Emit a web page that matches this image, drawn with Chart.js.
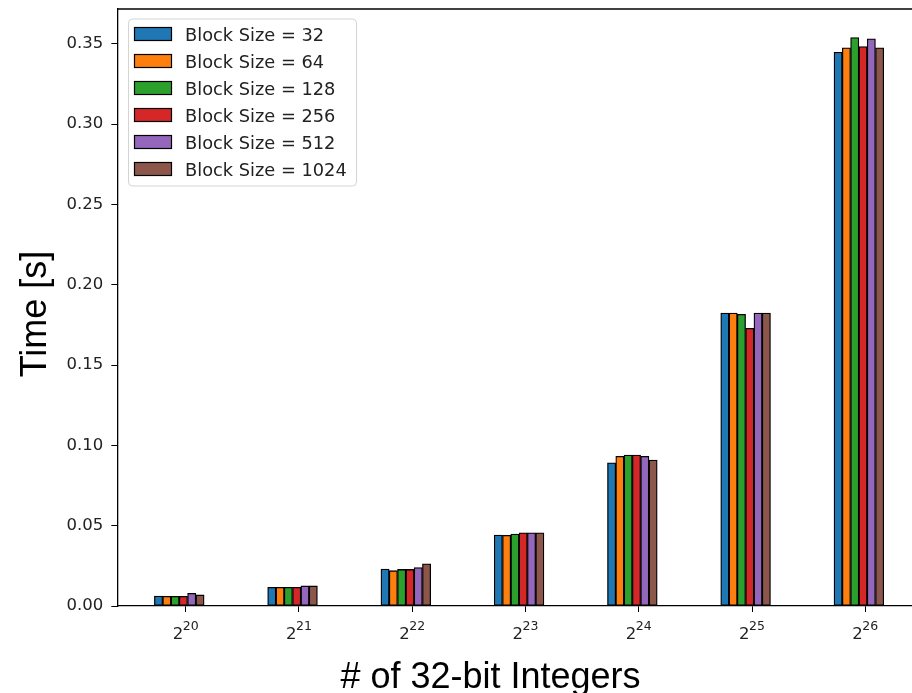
<!DOCTYPE html>
<html>
<head>
<meta charset="utf-8">
<script src="https://cdn.jsdelivr.net/npm/chart.js@4/dist/chart.umd.min.js"></script>
<style>
  html, body { margin: 0; padding: 0; background: #fff; }
  #wrap { width: 912px; height: 693px; position: relative; overflow: hidden; }
</style>
</head>
<body>
<div id="wrap"><canvas id="grafico" width="912" height="693"></canvas></div>
<script>
// dados
const expoentes = [20, 21, 22, 23, 24, 25, 26];
const blocos = ['Block Size = 32', 'Block Size = 64', 'Block Size = 128', 'Block Size = 256', 'Block Size = 512', 'Block Size = 1024'];
const bs32 = [0.0062, 0.0116, 0.0230, 0.0442, 0.0892, 0.1824, 0.3448];
const bs64 = [0.0060, 0.0116, 0.0220, 0.0440, 0.0932, 0.1824, 0.3476];
const bs128 = [0.0060, 0.0116, 0.0228, 0.0448, 0.0940, 0.1816, 0.3539];
const bs256 = [0.0060, 0.0116, 0.0228, 0.0456, 0.0940, 0.1729, 0.3483];
const bs512 = [0.0079, 0.0125, 0.0239, 0.0456, 0.0932, 0.1824, 0.3531];
const bs1024 = [0.0069, 0.0125, 0.0263, 0.0456, 0.0909, 0.1824, 0.3476];
const yTicks = [0, 0.05, 0.10, 0.15, 0.20, 0.25, 0.30, 0.35];
const cores = ['#1f77b4', '#ff7f0e', '#2ca02c', '#d62728', '#9467bd', '#8c564b'];

const series = [bs32, bs64, bs128, bs256, bs512, bs1024];

const tickShift = 0.0565; // ticks ficam um pouco a direita do centro do grupo
const corTexto = '#222';

const datasets = series.map((vals, i) => ({
  label: blocos[i],
  data: vals.map((v, j) => ({ x: j, y: v })),
  backgroundColor: cores[i],
  borderColor: '#000',
  borderWidth: 1.3,
  borderSkipped: false,
  barThickness: 8.3,
  inflateAmount: 0.3,
}));

const moldura = {
  id: 'moldura',
  afterDraw(chart) {
    const ctx = chart.ctx;
    const a = chart.chartArea;
    ctx.save();
    // spine de cima
    ctx.strokeStyle = '#000';
    ctx.lineWidth = 1.3;
    ctx.beginPath();
    ctx.moveTo(a.left, a.top);
    ctx.lineTo(a.right + 2, a.top);
    ctx.stroke();

    // rotulos do eixo x: 2 com expoente
    const sx = chart.scales.x;
    ctx.fillStyle = corTexto;
    ctx.textAlign = 'left';
    ctx.textBaseline = 'alphabetic';
    sx.ticks.forEach((t, i) => {
      const px = sx.getPixelForValue(t.value);
      ctx.font = '16.5px "DejaVu Sans"';
      const wb = ctx.measureText('2').width - 0.5;
      ctx.font = '12.5px "DejaVu Sans"';
      const we = ctx.measureText(String(expoentes[i])).width;
      const x0 = px - (wb + we) / 2;
      ctx.font = '16.5px "DejaVu Sans"';
      ctx.fillText('2', x0, 638.5);
      ctx.font = '12.5px "DejaVu Sans"';
      ctx.fillText(String(expoentes[i]), x0 + wb, 630);
    });

    // legenda
    const lx = 128, ly = 18.5, lw = 228, lh = 167;
    ctx.fillStyle = 'rgba(255,255,255,0.8)';
    ctx.strokeStyle = '#d4d4d4';
    ctx.lineWidth = 1;
    ctx.beginPath();
    ctx.roundRect(lx + 0.5, ly + 0.5, lw, lh, 4);
    ctx.fill();
    ctx.stroke();
    ctx.font = '17.8px "DejaVu Sans"';
    chart.data.datasets.forEach((ds, i) => {
      const y = 27.5 + i * 27;
      ctx.fillStyle = ds.backgroundColor;
      ctx.fillRect(134.5, y, 37, 13);
      ctx.strokeStyle = '#000';
      ctx.lineWidth = 1.2;
      ctx.strokeRect(134.5, y, 37, 13);
      ctx.fillStyle = corTexto;
      ctx.fillText(ds.label, 185, y + 13);
    });

    // titulos dos eixos
    ctx.fillStyle = '#000';
    ctx.font = '36px "Liberation Sans", Arial, sans-serif';
    ctx.textAlign = 'center';
    ctx.fillText('# of 32-bit Integers', 490.5, 688);
    ctx.translate(46, 314);
    ctx.rotate(-Math.PI / 2);
    ctx.fillText('Time [s]', 0, 0);
    ctx.restore();
  }
};

new Chart(document.getElementById('grafico'), {
  type: 'bar',
  data: { datasets },
  plugins: [moldura],
  options: {
    responsive: false,
    animation: false,
    devicePixelRatio: 1,
    layout: { padding: { top: 9, right: 0, bottom: 0, left: 0 } },
    plugins: { legend: { display: false }, tooltip: { enabled: false } },
    scales: {
      x: {
        type: 'linear',
        offset: false,
        min: -0.547,
        max: 6.469,
        afterBuildTicks: (s) => { s.ticks = expoentes.map((e, i) => ({ value: i + tickShift })); },
        afterFit: (s) => { s.height = 87; s.paddingLeft = 0; s.paddingRight = 0; },
        grid: { display: true, offset: false, drawOnChartArea: false, drawTicks: true, tickLength: 6, tickColor: '#000', tickWidth: 1 },
        border: { display: true, color: '#000', width: 1.3 },
        ticks: {
          maxRotation: 0,
          autoSkip: false,
          callback: () => '', // desenhados no plugin com expoente
        },
      },
      y: {
        min: 0,
        max: 0.3717,
        afterBuildTicks: (s) => { s.ticks = yTicks.map(v => ({ value: v })); },
        afterFit: (s) => { s.width = 117.3; s.paddingTop = 0; s.paddingBottom = 0; },
        grid: { display: true, drawOnChartArea: false, drawTicks: true, tickLength: 6, tickColor: '#000', tickWidth: 1 },
        border: { display: true, color: '#000', width: 1.3 },
        ticks: {
          padding: 8,
          color: corTexto,
          font: { family: 'DejaVu Sans', size: 16.5 },
          callback: (v) => v.toFixed(2),
        },
      },
    },
  },
});
</script>
</body>
</html>
